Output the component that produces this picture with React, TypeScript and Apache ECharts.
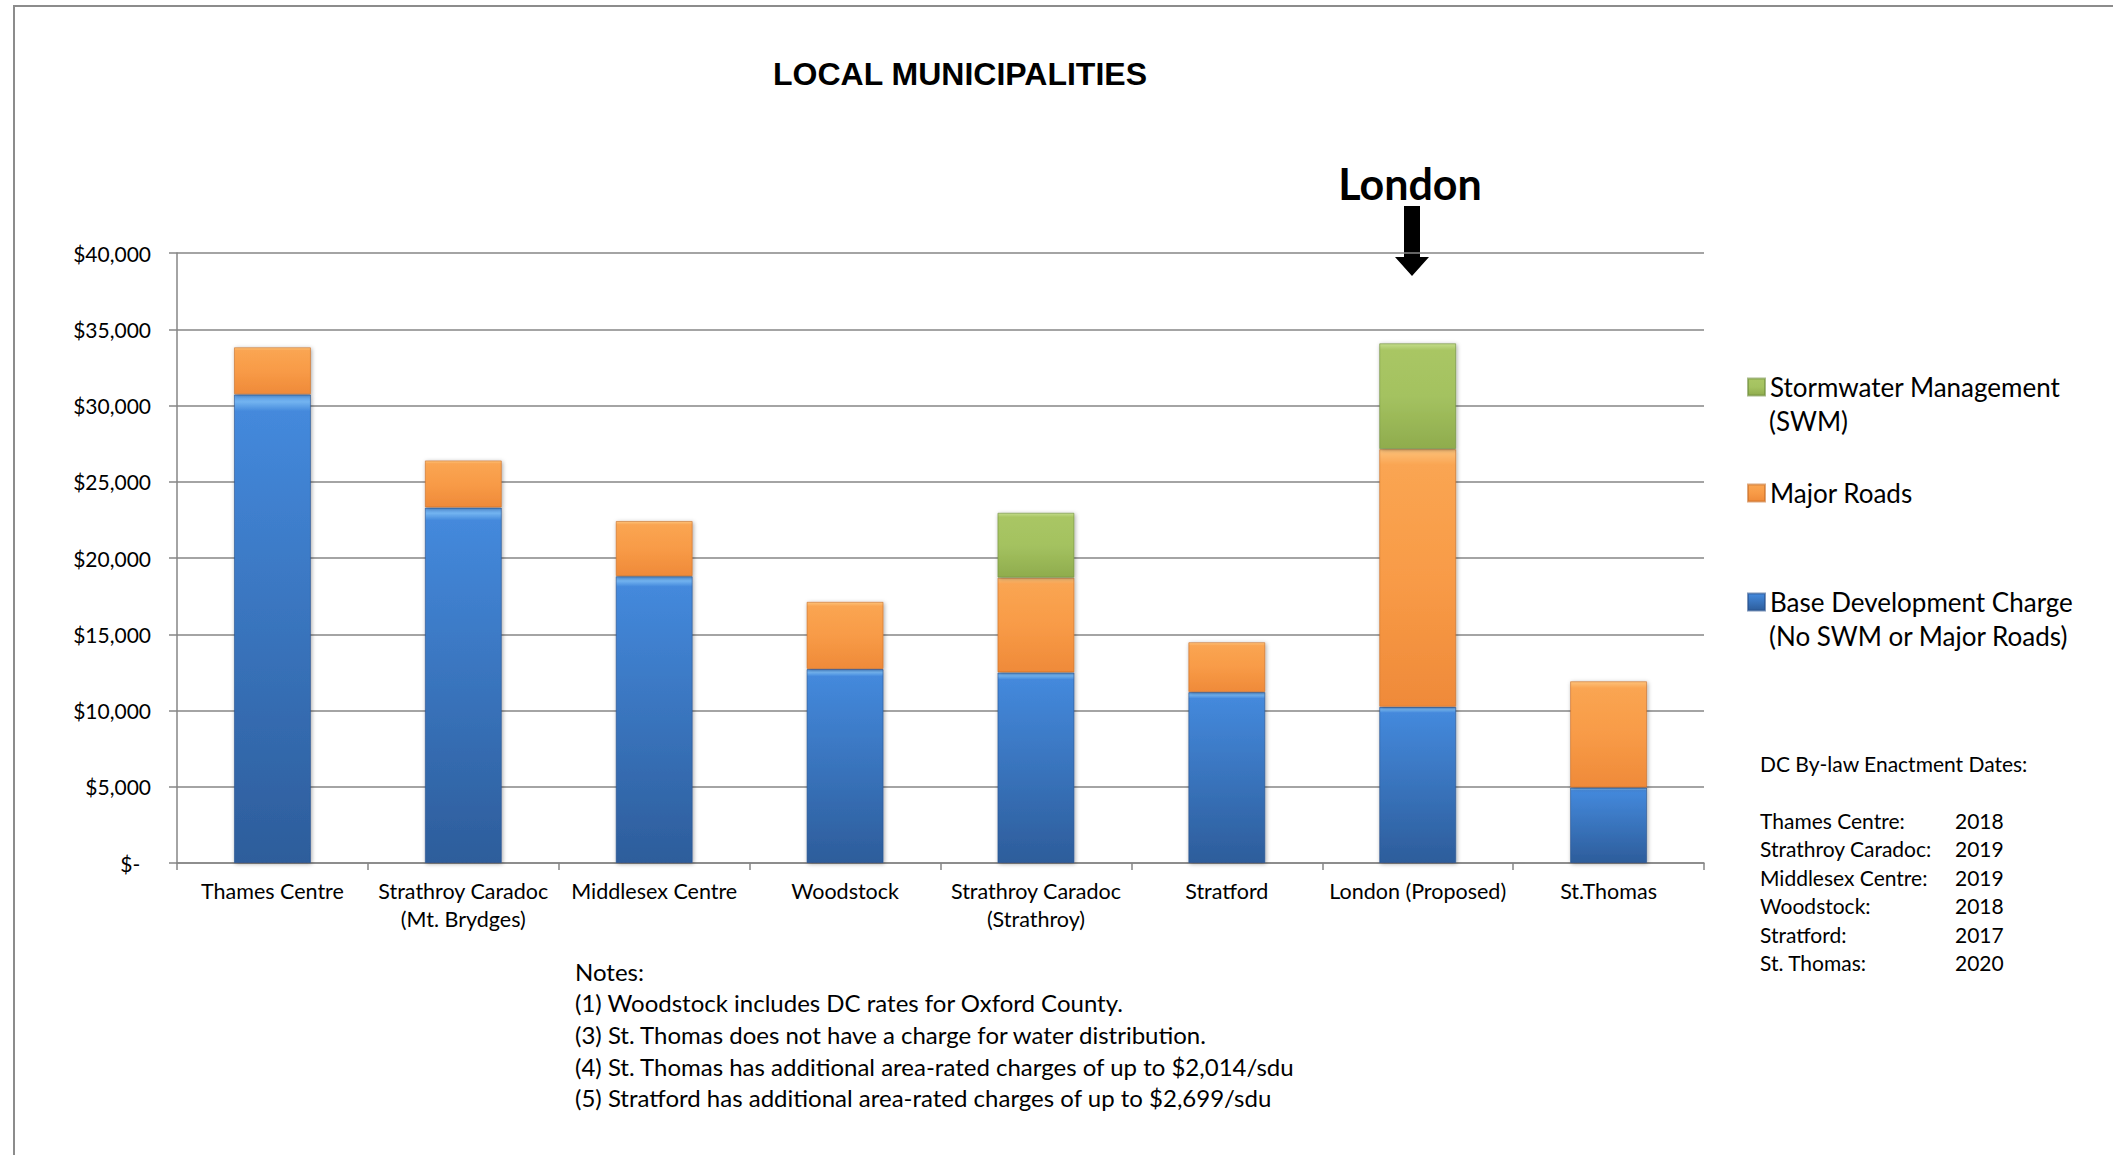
import React, { useEffect, useRef } from 'react';
import * as echarts from 'echarts';

const categories = [
  'Thames Centre',
  'Strathroy Caradoc\n(Mt. Brydges)',
  'Middlesex Centre',
  'Woodstock',
  'Strathroy Caradoc\n(Strathroy)',
  'Stratford',
  'London (Proposed)',
  'St.Thomas',
];
const baseCharge = [30730, 23310, 18810, 12720, 12500, 11210, 10240, 4950];
const majorRoads = [3090, 3090, 3620, 4410, 6210, 3270, 16900, 6970];
const stormwater = [0, 0, 0, 0, 4260, 0, 6940, 0];

const seriesNames = [
  'Base Development Charge\n(No SWM or Major Roads)',
  'Major Roads',
  'Stormwater Management\n(SWM)',
];

const yMin = 0;
const yMax = 40000;
const yInterval = 5000;

const titleText = 'LOCAL MUNICIPALITIES';
const calloutText = 'London';
const notesLines = [
  'Notes:',
  '(1) Woodstock includes DC rates for Oxford County.',
  '(3) St. Thomas does not have a charge for water distribution.',
  '(4) St. Thomas has additional area-rated charges of up to $2,014/sdu',
  '(5) Stratford has additional area-rated charges of up to $2,699/sdu',
];
const datesHeader = 'DC By-law Enactment Dates:';
const dateNames = ['Thames Centre:', 'Strathroy Caradoc:', 'Middlesex Centre:', 'Woodstock:', 'Stratford:', 'St. Thomas:'];
const dateYears = ['2018', '2019', '2019', '2018', '2017', '2020'];

const FONT = 'Lato, "Noto Sans", sans-serif';
const AXIS_GRAY = '#868686';

function grad(stops: [number, string][]) {
  return new echarts.graphic.LinearGradient(0, 0, 0, 1, stops.map(([offset, color]) => ({ offset, color })));
}

function textEl(x: number, y: number, text: string, fontSize: number, extra: any = {}) {
  return {
    type: 'text',
    x,
    y,
    style: {
      text,
      fontFamily: FONT,
      fontSize,
      fill: '#000',
      align: 'left',
      verticalAlign: 'middle',
      textAlign: 'left',
      textVerticalAlign: 'middle',
      ...extra,
    },
  };
}

export default function App() {
  const ref = useRef<HTMLDivElement>(null);

  useEffect(() => {
    const chart = echarts.init(ref.current!, null, { renderer: 'svg' });

    const blue = grad([[0, '#5a9ce6'], [0.015, '#72b3f0'], [0.035, '#4489dc'], [1, '#2d5d9b']]);
    const orange = grad([[0, '#fdc27a'], [0.06, '#faa552'], [0.5, '#f89b47'], [1, '#ef8a39']]);
    const green = grad([[0, '#c3dc8a'], [0.06, '#a9c664'], [0.5, '#a4c260'], [1, '#8fac4d']]);

    const shadow = {
      shadowColor: 'rgba(0,0,0,0.35)',
      shadowBlur: 4,
      shadowOffsetX: 1,
      shadowOffsetY: 1,
    };

    const barCommon = {
      type: 'bar',
      stack: 'total',
      barWidth: 77,
      emphasis: { disabled: true },
    };

    const legendBase = {
      orient: 'vertical',
      left: 1747,
      padding: 0,
      itemWidth: 17,
      itemHeight: 17,
      icon: 'rect',
      selectedMode: false,
      formatter: (name: string) => name.split('\n')[0],
      textStyle: { fontFamily: FONT, fontSize: 26, color: '#000', lineHeight: 34 },
    };

    const graphics: any[] = [];
    // frame lines
    graphics.push({
      type: 'polyline',
      silent: true,
      shape: { points: [[14, 1155], [14, 6], [2113, 6]] },
      style: { stroke: '#8c8c8c', lineWidth: 2, fill: null },
    });
    // legend second lines
    graphics.push(textEl(1769, 421, seriesNames[2].split('\n')[1], 26));
    graphics.push(textEl(1769, 636, seriesNames[0].split('\n')[1], 26));
    // London callout
    graphics.push(
      textEl(1410, 183, calloutText, 43, { fontWeight: 'bold', align: 'center', textAlign: 'center' })
    );
    graphics.push({
      type: 'polygon',
      shape: {
        points: [[1404, 206], [1420, 206], [1420, 257], [1429, 257], [1412, 276], [1395, 257], [1404, 257]],
      },
      style: { fill: '#000' },
    });
    // notes
    notesLines.forEach((t, i) => {
      graphics.push(textEl(575, 971 + i * 31.7, t, 24));
    });
    // dates
    graphics.push(textEl(1760, 763, datesHeader, 21));
    dateNames.forEach((t, i) => {
      const y = 820 + i * 28.5;
      graphics.push(textEl(1760, y, t, 21));
      graphics.push(textEl(1955, y, dateYears[i], 21));
    });

    const option: any = {
      animation: false,
      backgroundColor: '#fff',
      title: {
        text: titleText,
        left: 960,
        top: 58,
        textAlign: 'center',
        padding: 0,
        textStyle: { fontFamily: '"Liberation Sans", Arial, sans-serif', fontWeight: 'bold', fontSize: 32, color: '#000' },
      },
      legend: [
        { ...legendBase, top: 370, data: [{ name: seriesNames[2] }] },
        { ...legendBase, top: 476, data: [{ name: seriesNames[1] }] },
        { ...legendBase, top: 585, data: [{ name: seriesNames[0] }] },
      ],
      grid: { left: 177, right: 409, top: 253, bottom: 292, containLabel: false },
      xAxis: {
        type: 'category',
        data: categories,
        axisLine: { show: true, lineStyle: { color: AXIS_GRAY, width: 1.5 } },
        axisTick: { show: true, length: 7, lineStyle: { color: AXIS_GRAY, width: 1.5 } },
        axisLabel: {
          interval: 0,
          margin: 14,
          fontFamily: FONT,
          fontSize: 21.5,
          lineHeight: 28,
          color: '#000',
        },
      },
      yAxis: {
        type: 'value',
        min: yMin,
        max: yMax,
        interval: yInterval,
        axisLine: { show: true, lineStyle: { color: AXIS_GRAY, width: 1.5 } },
        axisTick: { show: true, length: 8, lineStyle: { color: AXIS_GRAY, width: 1.5 } },
        splitLine: { show: true, lineStyle: { color: AXIS_GRAY, width: 1.5 } },
        axisLabel: {
          margin: 26,
          fontFamily: FONT,
          fontSize: 21,
          color: '#000',
          formatter: (v: number) => (v === 0 ? '$-\u00a0\u00a0' : '$' + v.toLocaleString('en-US')),
        },
      },
      series: [
        {
          ...barCommon,
          name: seriesNames[0],
          data: baseCharge,
          itemStyle: { color: blue, borderColor: 'rgba(40,80,140,0.6)', borderWidth: 1, ...shadow },
        },
        {
          ...barCommon,
          name: seriesNames[1],
          data: majorRoads.map((v) => v || null),
          itemStyle: { color: orange, borderColor: 'rgba(200,110,40,0.6)', borderWidth: 1, ...shadow },
        },
        {
          ...barCommon,
          name: seriesNames[2],
          data: stormwater.map((v) => v || null),
          itemStyle: { color: green, borderColor: 'rgba(110,140,60,0.6)', borderWidth: 1, ...shadow },
        },
      ],
      graphic: graphics,
    };

    chart.setOption(option);
    return () => chart.dispose();
  }, []);

  return (
    <div
      ref={ref}
      style={{ position: 'absolute', left: 0, top: 0, width: 2113, height: 1155, background: '#fff' }}
    />
  );
}
